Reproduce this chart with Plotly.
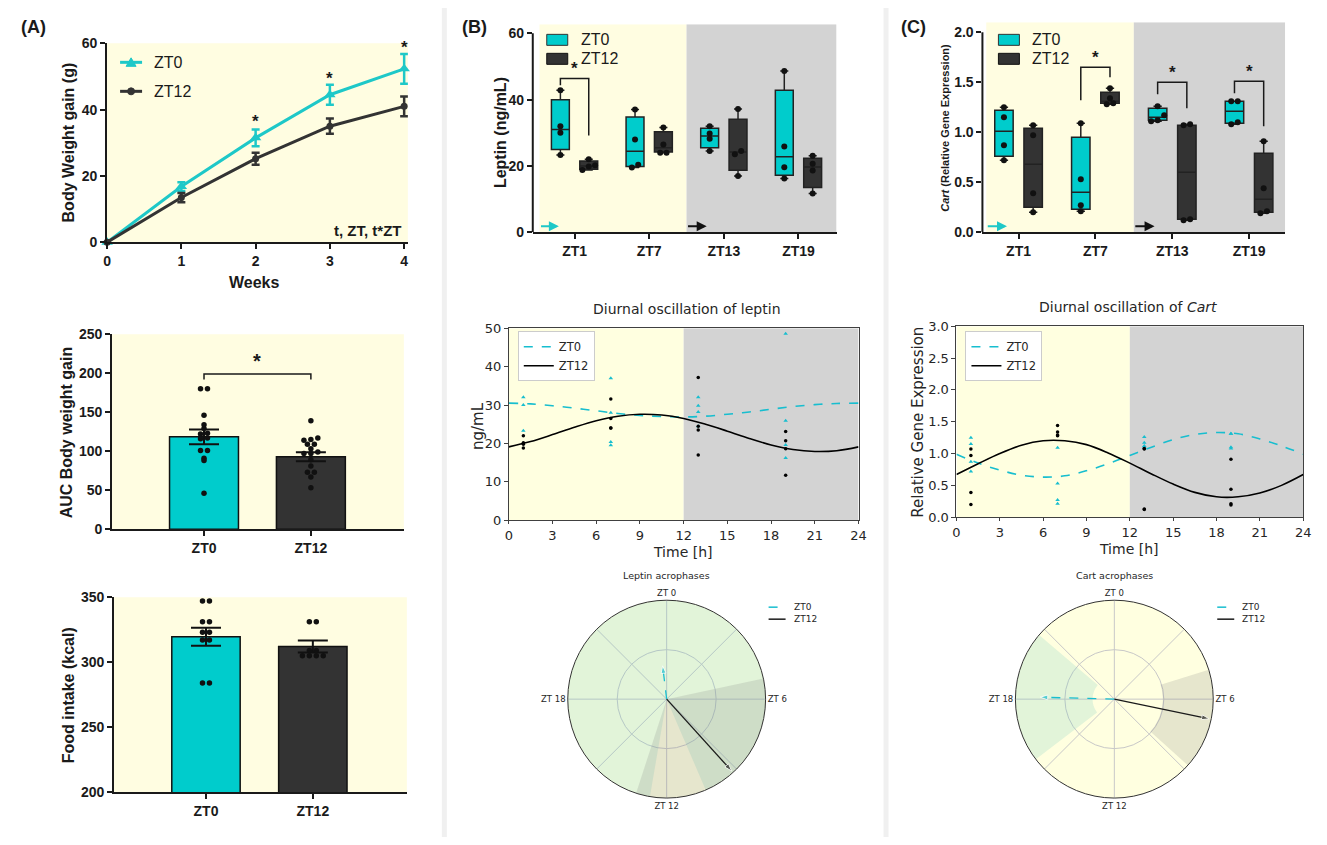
import plotly.graph_objects as go

W, H = 1327, 845
PAD = 8                      # browser body margin
FW, FH = W - 2 * PAD, H - 2 * PAD
# observed page->screenshot transform correction
SX, AX0 = 0.9916, 2.9
SY, AY0 = 0.981, 7.8

# ---------------- data ----------------
weeks = [0, 1, 2, 3, 4]
bw_zt0 = [0, 16.8, 31.5, 44.5, 52.3]
bw_zt0_sem = [0, 1.3, 2.5, 3.0, 4.5]
bw_zt12 = [0, 13.5, 25.2, 35.0, 41.0]
bw_zt12_sem = [0, 1.4, 1.8, 2.3, 3.0]
bw_sig_weeks = [2, 3, 4]
bw_sig_y = [36.5, 49.4, 58.8]

groups = ["ZT0", "ZT12"]
auc_mean = [118.5, 93]
auc_sem = [9.5, 5.8]
auc_zt0_pts = [180, 180, 146, 134, 129, 123, 122, 117, 116, 101, 101, 91, 88, 46]
auc_zt12_pts = [139, 117, 115, 114, 109, 109, 103, 99, 97, 97, 89, 81, 73, 73, 67, 53]

food_mean = [319.5, 312]
food_sem = [6.9, 4.6]
food_zt0_pts = [347, 347, 331, 331, 323, 323, 317, 317, 284, 284]
food_zt12_pts = [331, 331, 309, 309, 305, 305, 305, 305]

zt_labels = ["ZT1", "ZT7", "ZT13", "ZT19"]
zt_hours = [1, 7, 13, 19]

leptin_zt0 = [[42.8, 32, 30, 23.3], [37, 28, 20.4, 19.5], [32, 29.8, 28.2, 24.5], [48.6, 25.9, 19.6, 16.2]]
leptin_zt12 = [[22, 20.2, 19.8, 18.8], [31.6, 26.5, 24, 24], [37.2, 24.5, 23.5, 17], [23.1, 20.7, 18.6, 11.7]]
leptin_zt0_q1 = [25, 19.8, 25.5, 17.2]
leptin_zt0_med = [31, 24.4, 29, 22.8]
leptin_zt0_q3 = [40, 34.8, 31.4, 42.8]
leptin_zt12_q1 = [19, 24.2, 18.7, 13.5]
leptin_zt12_med = [20, 25.5, 24.2, 19.7]
leptin_zt12_q3 = [21.5, 30.3, 34.1, 22.3]

cart_zt0 = [[1.25, 1.15, 0.87, 0.72], [1.09, 0.53, 0.27, 0.21], [1.26, 1.17, 1.12, 1.11], [1.31, 1.31, 1.10, 1.08]]
cart_zt12 = [[1.07, 0.97, 0.39, 0.20], [1.44, 1.34, 1.29, 1.28], [1.08, 1.07, 0.13, 0.12], [0.91, 0.44, 0.21, 0.19]]
cart_zt0_q1 = [0.76, 0.23, 1.12, 1.09]
cart_zt0_med = [1.01, 0.40, 1.15, 1.21]
cart_zt0_q3 = [1.22, 0.95, 1.24, 1.31]
cart_zt12_q1 = [0.25, 1.29, 0.13, 0.20]
cart_zt12_med = [0.68, 1.31, 0.60, 0.33]
cart_zt12_q3 = [1.04, 1.40, 1.07, 0.79]

# significance brackets: category index, top, left leg end, right leg end, star y
leptin_sig = [(0, 46.4, 44.3, 29.2, 49.5)]
cart_sig = [(1, 1.65, 1.32, 1.55, 1.75), (2, 1.50, 1.38, 1.24, 1.60), (3, 1.51, 1.39, 1.06, 1.61)]

# cosinor fit curves (every 1.5 h)
fit_t = [0, 1.5, 3, 4.5, 6, 7.5, 9, 10.5, 12, 13.5, 15, 16.5, 18, 19.5, 21, 22.5, 24]
leptin_fit_zt0 = [30.5, 30.3, 29.8, 29.2, 28.5, 27.8, 27.3, 27.0, 26.9, 27.1, 27.6, 28.2, 28.9, 29.6, 30.1, 30.4, 30.5]
leptin_fit_zt12 = [19.1, 20.5, 22.3, 24.2, 25.9, 27.1, 27.6, 27.4, 26.5, 25.0, 23.2, 21.3, 19.6, 18.4, 17.9, 18.1, 19.1]
cart_fit_zt0 = [0.99, 0.85, 0.74, 0.66, 0.63, 0.65, 0.73, 0.84, 0.97, 1.10, 1.22, 1.30, 1.33, 1.31, 1.23, 1.12, 0.99]
cart_fit_zt12 = [0.67, 0.84, 1.00, 1.13, 1.20, 1.20, 1.14, 1.01, 0.85, 0.68, 0.52, 0.39, 0.32, 0.32, 0.38, 0.50, 0.67]

# acrophases (h), relative amplitude, confidence interval (h) and radial CI
leptin_acro = [23.54, 9.19]
leptin_amp = [0.34, 0.98]
leptin_ci_lo = [12.65, 5.2]
leptin_ci_hi = [10.45, 13.2]
leptin_ci_r = [(0.0, 1.0), (0.0, 1.0)]
cart_acro = [18.1, 6.78]
cart_amp = [0.75, 0.98]
cart_ci_lo = [15.5, 4.85]
cart_ci_hi = [20.7, 8.8]
cart_ci_r = [(0.22, 1.0), (0.49, 1.0)]

# ---------------- styles ----------------
CYAN = "#00CCCC"
CYAN_L = "#1EC8C8"
DARK = "#333333"
YEL = "#FFFDE1"
GRAY_BG = "#D3D3D3"
MPL_CYAN = "#17BECF"
PF = "Liberation Sans, Arial, sans-serif"
MF = "DejaVu Sans, sans-serif"
AX = "#1a1a1a"


def X(p):
    return ((p - AX0) / SX - PAD) / FW


def Y(p):
    return 1 - ((p - AY0) / SY - PAD) / FH


def spread(vals, thresh, step):
    idx = sorted(range(len(vals)), key=lambda i: vals[i])
    offs = [0.0] * len(vals)
    grps, cur = [], [idx[0]]
    for a, b in zip(idx, idx[1:]):
        if vals[b] - vals[a] < thresh:
            cur.append(b)
        else:
            grps.append(cur)
            cur = [b]
    grps.append(cur)
    for g in grps:
        n = len(g)
        for k, i in enumerate(g):
            offs[i] = (k - (n - 1) / 2) * step
    return offs


def prism_axis(domain, rng, anchor, **kw):
    d = dict(domain=domain, range=rng, anchor=anchor, showline=True, linecolor=AX, linewidth=2,
             ticks="outside", ticklen=5, tickwidth=2, tickcolor=AX, showgrid=False, zeroline=False,
             tickfont=dict(family=PF, size=14, color=AX, weight="bold"))
    d.update(kw)
    return d


def mpl_axis(domain, rng, anchor, **kw):
    d = dict(domain=domain, range=rng, anchor=anchor, showline=True, mirror=True, linecolor="#404040",
             linewidth=1, ticks="outside", ticklen=4, tickwidth=1, tickcolor="#404040", showgrid=False,
             zeroline=False, tickfont=dict(family=MF, size=13, color="#262626"))
    d.update(kw)
    return d


fig = go.Figure()
shapes, annos = [], []


def ptext(txt, px, py, size, fam=PF, bold=True, angle=0, xanchor="center", color=None):
    f = dict(family=fam, size=size, color=color or (AX if fam == PF else "#262626"))
    if bold:
        f["weight"] = "bold"
    annos.append(dict(x=X(px), y=Y(py), xref="paper", yref="paper", text=txt, showarrow=False,
                      textangle=angle, font=f, xanchor=xanchor, yanchor="middle"))


def pline(x0, y0, x1, y1, color, width, dash="solid"):
    shapes.append(dict(type="line", xref="paper", yref="paper", x0=X(x0), x1=X(x1), y0=Y(y0), y1=Y(y1),
                       line=dict(color=color, width=width, dash=dash)))


def prect(x0, y0, x1, y1, fill, line_color=None, lw=0, layer="above"):
    shapes.append(dict(type="rect", xref="paper", yref="paper", x0=X(x0), x1=X(x1), y0=Y(y1), y1=Y(y0),
                       fillcolor=fill, line=dict(color=line_color or fill, width=lw), layer=layer))


# ---------------- Panel A top ----------------
fig.add_trace(go.Scatter(x=weeks, y=bw_zt0, name="ZT0", mode="lines+markers", xaxis="x", yaxis="y",
                         line=dict(color=CYAN_L, width=3), marker=dict(symbol="triangle-up", size=10, color=CYAN_L),
                         error_y=dict(array=bw_zt0_sem, color=CYAN_L, thickness=2.5, width=4),
                         cliponaxis=False, showlegend=False))
fig.add_trace(go.Scatter(x=weeks, y=bw_zt12, name="ZT12", mode="lines+markers", xaxis="x", yaxis="y",
                         line=dict(color=DARK, width=3), marker=dict(symbol="circle", size=7, color=DARK),
                         error_y=dict(array=bw_zt12_sem, color=DARK, thickness=2.5, width=4),
                         cliponaxis=False, showlegend=False))
for wk, sy in zip(bw_sig_weeks, bw_sig_y):
    annos.append(dict(x=wk, y=sy, xref="x", yref="y", text="*", showarrow=False,
                      font=dict(family=PF, size=17, color=AX, weight="bold")))
annos.append(dict(x=4, y=3.6, xref="x", yref="y", text="t, ZT, t*ZT", showarrow=False, xanchor="right",
                  font=dict(family=PF, size=15, color=AX, weight="bold")))
shapes.append(dict(type="rect", xref="x domain", yref="y domain", x0=0, x1=1, y0=0, y1=1,
                   fillcolor=YEL, line=dict(width=0), layer="below"))
# legend A (drawn)
pline(119, 62, 141, 62, CYAN_L, 3)
shapes.append(dict(type="path", xref="paper", yref="paper",
                   path=f"M {X(125)},{Y(66)} L {X(135)},{Y(66)} L {X(130)},{Y(57.5)} Z",
                   fillcolor=CYAN_L, line=dict(color=CYAN_L, width=1)))
pline(119, 91, 141, 91, DARK, 3)
shapes.append(dict(type="circle", xref="paper", yref="paper", x0=X(126.5), x1=X(133.5), y0=Y(94.5), y1=Y(87.5),
                   fillcolor=DARK, line=dict(color=DARK, width=1)))
ptext("ZT0", 151, 62, 16, bold=False, xanchor="left")
ptext("ZT12", 151, 91, 16, bold=False, xanchor="left")

# ---------------- Panel A middle (AUC) ----------------
fig.add_trace(go.Bar(x=[0, 1], y=auc_mean, width=0.645, xaxis="x2", yaxis="y2", showlegend=False,
                     marker=dict(color=[CYAN, DARK], line=dict(color="#111111", width=1.5)),
                     error_y=dict(array=auc_sem, color="#111111", thickness=2, width=15)))
for gi, pts in enumerate([auc_zt0_pts, auc_zt12_pts]):
    offs = spread(pts, 3, 0.065)
    fig.add_trace(go.Scatter(x=[gi + o for o in offs], y=pts, mode="markers", xaxis="x2", yaxis="y2",
                             marker=dict(color="#111111", size=5.5), showlegend=False))
shapes.append(dict(type="path", xref="x2", yref="y2", path="M 0,192 L 0,199 L 1,199 L 1,192",
                   line=dict(color=AX, width=1.5)))
annos.append(dict(x=0.5, y=216, xref="x2", yref="y2", text="*", showarrow=False,
                  font=dict(family=PF, size=20, color=AX, weight="bold")))
shapes.append(dict(type="rect", xref="x2 domain", yref="y2 domain", x0=0, x1=1, y0=0, y1=1,
                   fillcolor=YEL, line=dict(width=0), layer="below"))

# ---------------- Panel A bottom (food) ----------------
fig.add_trace(go.Bar(x=[0, 1], y=food_mean, width=0.64, xaxis="x3", yaxis="y3", showlegend=False,
                     marker=dict(color=[CYAN, DARK], line=dict(color="#111111", width=1.5)),
                     error_y=dict(array=food_sem, color="#111111", thickness=2, width=15)))
for gi, pts in enumerate([food_zt0_pts, food_zt12_pts]):
    offs = spread(pts, 2.5, 0.065)
    fig.add_trace(go.Scatter(x=[gi + o for o in offs], y=pts, mode="markers", xaxis="x3", yaxis="y3",
                             marker=dict(color="#111111", size=5.5), showlegend=False, cliponaxis=False))
shapes.append(dict(type="rect", xref="x3 domain", yref="y3 domain", x0=0, x1=1, y0=0, y1=1,
                   fillcolor=YEL, line=dict(width=0), layer="below"))

# ---------------- box panels (B top / C top) ----------------
OFF = 0.19


def box_panel(xa, ya, d0, d12, q10, m0, q30, q112, m12, q312, sig, thresh, ytop, xl_bg, xr,
              arrow_y, arrow_heads):
    cats = list(range(len(zt_labels)))
    for name, data, q1, med, q3, fill, sgn in [("ZT0", d0, q10, m0, q30, CYAN, -1),
                                                ("ZT12", d12, q112, m12, q312, DARK, 1)]:
        fig.add_trace(go.Box(x=[c + sgn * OFF for c in cats], q1=q1, median=med, q3=q3,
                             lowerfence=[min(v) for v in data], upperfence=[max(v) for v in data],
                             fillcolor=fill, line=dict(color="#222222", width=1.5), width=0.24,
                             whiskerwidth=0.45, boxpoints=False, name=name, xaxis=xa, yaxis=ya,
                             showlegend=False))
        xs, ys = [], []
        for c, vals in zip(cats, data):
            offs = spread(vals, thresh, 0.085)
            xs += [c + sgn * OFF + o for o in offs]
            ys += vals
        fig.add_trace(go.Scatter(x=xs, y=ys, mode="markers", xaxis=xa, yaxis=ya, showlegend=False,
                                 marker=dict(color="#111111", size=6), cliponaxis=False))
    for c, top, yl, yr, sy in sig:
        x0, x1 = c - OFF, c + OFF
        shapes.append(dict(type="path", xref=xa, yref=ya,
                           path=f"M {x0},{yl} L {x0},{top} L {x1},{top} L {x1},{yr}",
                           line=dict(color=AX, width=1.5)))
        annos.append(dict(x=c, y=sy, xref=xa, yref=ya, text="*", showarrow=False,
                          font=dict(family=PF, size=17, color=AX, weight="bold")))
    shapes.append(dict(type="rect", xref=xa, yref=ya, x0=xl_bg, x1=1.5, y0=0, y1=ytop,
                       fillcolor=YEL, line=dict(width=0), layer="below"))
    shapes.append(dict(type="rect", xref=xa, yref=ya, x0=1.5, x1=xr, y0=0, y1=ytop,
                       fillcolor=GRAY_BG, line=dict(width=0), layer="below"))
    for tail, head, col in [(xl_bg, arrow_heads[0], CYAN_L), (1.5, arrow_heads[1], "#111111")]:
        annos.append(dict(x=head, y=arrow_y, ax=tail, ay=arrow_y, xref=xa, yref=ya, axref=xa, ayref=ya,
                          text="", showarrow=True, arrowhead=2, arrowsize=1, arrowwidth=2, arrowcolor=col))


box_panel("x4", "y4", leptin_zt0, leptin_zt12, leptin_zt0_q1, leptin_zt0_med, leptin_zt0_q3,
          leptin_zt12_q1, leptin_zt12_med, leptin_zt12_q3, leptin_sig, 1.5, 62.7, -0.47, 3.51,
          1.8, (-0.21, 1.77))
box_panel("x6", "y6", cart_zt0, cart_zt12, cart_zt0_q1, cart_zt0_med, cart_zt0_q3,
          cart_zt12_q1, cart_zt12_med, cart_zt12_q3, cart_sig, 0.05, 2.1, -0.42, 3.47,
          0.06, (-0.15, 1.77))
# y axis lines only up to last tick
shapes.append(dict(type="line", xref="paper", yref="y4", x0=X(532), x1=X(532), y0=0, y1=60,
                   line=dict(color=AX, width=2)))
shapes.append(dict(type="line", xref="paper", yref="y6", x0=X(982), x1=X(982), y0=0, y1=2.0,
                   line=dict(color=AX, width=2)))
# drawn legends for box panels
for lx, tx in [(546, 578), (998, 1030)]:
    prect(lx, 34, lx + 21, 45, CYAN, "#333333", 1)
    prect(lx, 53, lx + 21, 64, DARK, "#111111", 1)
    ptext("ZT0", tx, 39.5, 16, bold=False, xanchor="left")
    ptext("ZT12", tx, 58.5, 16, bold=False, xanchor="left")

# ---------------- diurnal panels (B mid / C mid) ----------------


def diurnal_panel(xa, ya, d0, d12, f0, f12, ymax, legend_name):
    shapes.append(dict(type="rect", xref=xa, yref=ya, x0=0, x1=12, y0=0, y1=ymax,
                       fillcolor="#FFFFE0", line=dict(width=0), layer="below"))
    shapes.append(dict(type="rect", xref=xa, yref=ya, x0=12, x1=24, y0=0, y1=ymax,
                       fillcolor=GRAY_BG, line=dict(width=0), layer="below"))
    xs0, ys0, xs12, ys12 = [], [], [], []
    for h, v0, v12 in zip(zt_hours, d0, d12):
        xs0 += [h] * len(v0)
        ys0 += v0
        xs12 += [h] * len(v12)
        ys12 += v12
    fig.add_trace(go.Scatter(x=xs0, y=ys0, mode="markers", xaxis=xa, yaxis=ya, showlegend=False,
                             marker=dict(symbol="triangle-up", size=4, color=MPL_CYAN)))
    fig.add_trace(go.Scatter(x=xs12, y=ys12, mode="markers", xaxis=xa, yaxis=ya, showlegend=False,
                             marker=dict(symbol="circle", size=3.5, color="#000000")))
    fig.add_trace(go.Scatter(x=fit_t, y=f0, mode="lines", name="ZT0", xaxis=xa, yaxis=ya,
                             line=dict(color=MPL_CYAN, width=1.6, dash="dash", shape="spline"),
                             legend=legend_name))
    fig.add_trace(go.Scatter(x=fit_t, y=f12, mode="lines", name="ZT12", xaxis=xa, yaxis=ya,
                             line=dict(color="#000000", width=1.6, shape="spline"), legend=legend_name))


diurnal_panel("x5", "y5", leptin_zt0, leptin_zt12, leptin_fit_zt0, leptin_fit_zt12, 50, "legend")
diurnal_panel("x7", "y7", cart_zt0, cart_zt12, cart_fit_zt0, cart_fit_zt12, 3, "legend2")

# ---------------- polar panels ----------------


def polar_panel(sub, acro, amp, ci_lo, ci_hi, ci_r):
    fills = ["rgba(110,200,190,0.2)", "rgba(128,128,128,0.2)"]
    for lo, hi, (r0, r1), fc in zip(ci_lo, ci_hi, ci_r, fills):
        span = (hi - lo) % 24
        center = (lo + span / 2) % 24
        fig.add_trace(go.Barpolar(theta=[center * 15], r=[r1 - r0], base=[r0], width=[span * 15],
                                  marker=dict(color=fc, line=dict(width=0)), subplot=sub, showlegend=False))
    styles = [dict(color=MPL_CYAN, dash="dash"), dict(color="#1a1a1a", dash="solid")]
    for a, r, st in zip(acro, amp, styles):
        fig.add_trace(go.Scatterpolar(theta=[a * 15, a * 15], r=[0, r], mode="lines+markers", subplot=sub,
                                      line=dict(color=st["color"], width=1.3, dash=st["dash"]),
                                      marker=dict(symbol="arrow", size=[0, 8], angleref="previous",
                                                  color=st["color"]),
                                      showlegend=False))


polar_panel("polar", leptin_acro, leptin_amp, leptin_ci_lo, leptin_ci_hi, leptin_ci_r)
polar_panel("polar2", cart_acro, cart_amp, cart_ci_lo, cart_ci_hi, cart_ci_r)
# drawn polar legends
for lx in [768, 1217]:
    pline(lx, 607, lx + 17, 607, MPL_CYAN, 1.5, "dash")
    pline(lx, 619, lx + 17, 619, "#1a1a1a", 1.5)
    ptext("ZT0", lx + 23, 607, 9, fam=MF, bold=False, xanchor="left")
    ptext("ZT12", lx + 23, 619, 9, fam=MF, bold=False, xanchor="left")


def polar_layout(x0, x1):
    return dict(domain=dict(x=[X(x0), X(x1)], y=[Y(798), Y(600)]), bgcolor="#FFFFE0",
                angularaxis=dict(rotation=90, direction="clockwise",
                                 tickvals=[0, 45, 90, 135, 180, 225, 270, 315],
                                 ticktext=["ZT 0", "", "ZT 6", "", "ZT 12", "", "ZT 18", ""],
                                 showline=True, linecolor="#333333", linewidth=1, gridcolor="#c8c8c8",
                                 ticks="", tickfont=dict(family=MF, size=8.5, color="#262626")),
                radialaxis=dict(range=[0, 1], tickvals=[0.5], showticklabels=False, ticks="",
                                showline=False, gridcolor="#c8c8c8"),
                barmode="overlay")


# ---------------- separators & labels ----------------
for x0, x1 in [(441, 446), (883, 888)]:
    prect(x0, 0, x1, H, "#F0F0F0", layer="below")
prect(0, 0, W, 6, "#F0F0F0", layer="below")
prect(0, 0, 6, H, "#F0F0F0", layer="below")

for txt, px in [("(A)", 32), ("(B)", 474), ("(C)", 913)]:
    ptext(txt, px, 27, 18)

ptext("Body Weight gain (g)", 67, 142, 16, angle=-90)
ptext("Weeks", 254, 282, 16)
ptext("AUC Body weight gain", 65, 432, 16, angle=-90)
ptext("Food intake (kcal)", 67, 695, 16, angle=-90)
ptext("Leptin (ng/mL)", 500, 132, 16, angle=-90)
ptext("<i>Cart</i> (Relative Gene Expression)", 945, 127, 11, angle=-90)
ptext("Diurnal oscillation of leptin", 686, 309, 14, fam=MF, bold=False)
ptext("ng/mL", 477, 426, 15, fam=MF, bold=False, angle=-90)
ptext("Time [h]", 682, 552, 14, fam=MF, bold=False)
ptext("Diurnal oscillation of <i>Cart</i>", 1128, 307, 14, fam=MF, bold=False)
ptext("Relative Gene Expression", 918, 422, 15, fam=MF, bold=False, angle=-90)
ptext("Time [h]", 1129, 549, 14, fam=MF, bold=False)
ptext("Leptin acrophases", 666, 575, 9.5, fam=MF, bold=False)
ptext("Cart acrophases", 1114, 575, 9.5, fam=MF, bold=False)

legend_mpl = dict(bgcolor="white", bordercolor="#cccccc", borderwidth=1,
                  font=dict(family=MF, size=11.5, color="#262626"), xanchor="left", yanchor="top",
                  itemwidth=30)

fig.update_layout(
    width=FW, height=FH, margin=dict(l=0, r=0, t=0, b=0), paper_bgcolor="white", plot_bgcolor="white",
    showlegend=True, shapes=shapes, annotations=annos,
    xaxis=prism_axis([X(106), X(407)], [0, 4.05], "y", tickvals=weeks),
    yaxis=prism_axis([Y(242), Y(43)], [0, 60], "x", tickvals=[0, 20, 40, 60]),
    xaxis2=prism_axis([X(111), X(403)], [-0.86, 1.87], "y2", tickvals=[0, 1], ticktext=groups),
    yaxis2=prism_axis([Y(529), Y(334)], [0, 250], "x2", tickvals=[0, 50, 100, 150, 200, 250]),
    xaxis3=prism_axis([X(113), X(406)], [-0.86, 1.88], "y3", tickvals=[0, 1], ticktext=groups),
    yaxis3=prism_axis([Y(792), Y(597)], [200, 350], "x3", tickvals=[200, 250, 300, 350]),
    xaxis4=prism_axis([X(532), X(836)], [-0.56, 3.51], "y4", tickvals=[0, 1, 2, 3], ticktext=zt_labels),
    yaxis4=prism_axis([Y(232), Y(24)], [0, 62.7], "x4", tickvals=[0, 20, 40, 60], showline=False),
    xaxis6=prism_axis([X(982), X(1285)], [-0.47, 3.47], "y6", tickvals=[0, 1, 2, 3], ticktext=zt_labels),
    yaxis6=prism_axis([Y(232), Y(22)], [0, 2.1], "x6", tickvals=[0, 0.5, 1, 1.5, 2],
                      ticktext=["0.0", "0.5", "1.0", "1.5", "2.0"], showline=False),
    xaxis5=mpl_axis([X(508), X(858)], [0, 24], "y5", tickvals=list(range(0, 25, 3)), ticklen=3),
    yaxis5=mpl_axis([Y(520), Y(328)], [0, 50], "x5", tickvals=[0, 10, 20, 30, 40, 50]),
    xaxis7=mpl_axis([X(956), X(1303)], [0, 24], "y7", tickvals=list(range(0, 25, 3)), ticklen=3),
    yaxis7=mpl_axis([Y(517), Y(326)], [0, 3], "x7", tickvals=[0, 0.5, 1, 1.5, 2, 2.5, 3],
                    ticktext=["0.0", "0.5", "1.0", "1.5", "2.0", "2.5", "3.0"]),
    polar=polar_layout(567, 765),
    polar2=polar_layout(1015, 1213),
    legend=dict(legend_mpl, x=X(517), y=Y(331)),
    legend2=dict(legend_mpl, x=X(965), y=Y(331)),
)

fig.write_html("out.html")
